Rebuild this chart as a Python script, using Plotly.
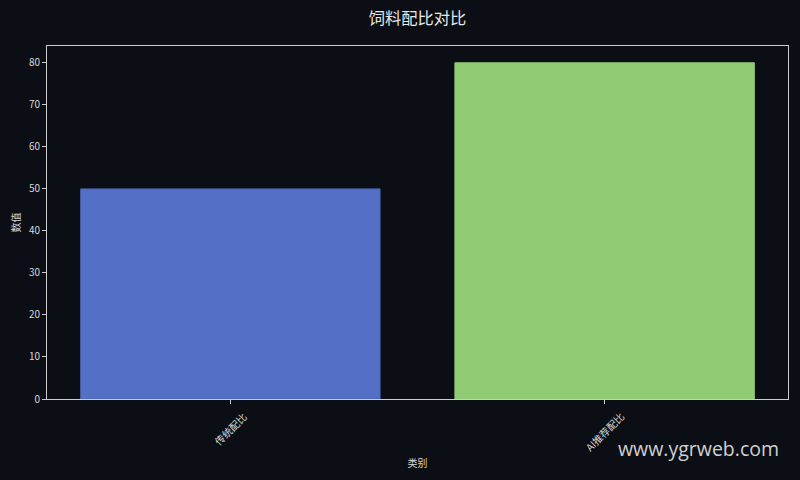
import plotly.graph_objects as go

categories = ['传统配比', 'AI推荐配比']
values = [50, 80]
bar_colors = ['#5470c6', '#91cc75']

fig = go.Figure()
fig.add_trace(go.Bar(
    x=[0, 1],
    y=values,
    width=0.8,
    marker=dict(color=bar_colors, line=dict(color=['#4a62b0', '#91cc75'], width=1)),
))

axis_font = dict(family='Noto Sans CJK SC, DejaVu Sans, sans-serif', size=10, color='#d8d8d8')

fig.update_layout(
    width=800, height=480,
    paper_bgcolor='#0b0e14',
    plot_bgcolor='#0b0e14',
    margin=dict(l=47, r=12, t=46, b=81, autoexpand=False),
    showlegend=False,
    title=dict(text='饲料配比对比', xref='paper', x=0.5, xanchor='center', y=0.962, yanchor='middle',
               font=dict(family='Noto Sans CJK SC, sans-serif', size=16.3, color='#e8e8e8')),
    font=axis_font,
)
fig.update_xaxes(
    range=[-0.49, 1.49], automargin=False,
    tickvals=[0, 1], showticklabels=False,
    ticks='outside', ticklen=4, tickcolor='#cccccc',
    showline=True, linecolor='#cccccc', linewidth=1, mirror=True,
    showgrid=False, zeroline=False,
    title=dict(text='类别', font=axis_font, standoff=56),
)
fig.update_yaxes(
    range=[0, 84], automargin=False,
    tickvals=[0, 10, 20, 30, 40, 50, 60, 70, 80],
    ticks='outside', ticklen=4, tickcolor='#cccccc',
    showline=True, linecolor='#cccccc', linewidth=1, mirror=True,
    showgrid=False, zeroline=False,
    title=dict(text='数值', font=axis_font, standoff=6),
    tickfont=axis_font,
)

# rotated category labels centred under the ticks (matplotlib style)
for i, name in enumerate(categories):
    fig.add_annotation(
        text=name, x=i, xref='x', y=0, yref='paper',
        xanchor='center', yanchor='top', yshift=-7, textangle=-45,
        showarrow=False, font=axis_font,
    )

fig.add_annotation(
    text='www.ygrweb.com', xref='paper', yref='paper',
    x=0.9906, y=-0.1416, xanchor='right', yanchor='middle', showarrow=False,
    font=dict(family='Open Sans, Noto Sans, sans-serif', size=19.5, color='#d0d0d0'),
)

fig.write_html('out.html', config={'displayModeBar': False},
               post_script="document.body.style.margin='0';")
